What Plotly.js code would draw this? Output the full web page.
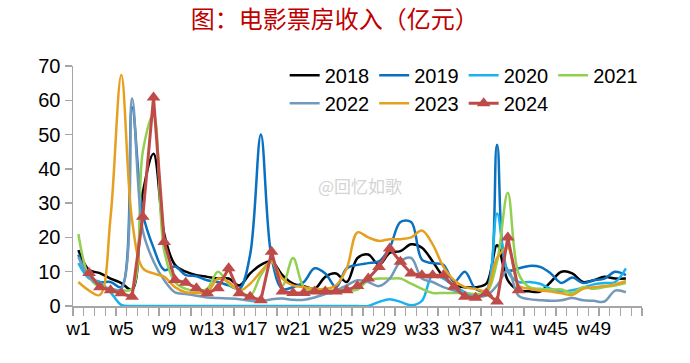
<!DOCTYPE html>
<html>
<head>
<meta charset="utf-8">
<script src="https://cdn.plot.ly/plotly-3.0.1.min.js"></script>
<style>
html,body{margin:0;padding:0;background:#fff;}
#chart{width:690px;height:363px;}
</style>
</head>
<body>
<div id="chart"></div>
<script>
// ---- data ----
const weeks = [];
for (let i = 1; i <= 53; i++) weeks.push('w' + i);
const xTickLabels = ['w1','w5','w9','w13','w17','w21','w25','w29','w33','w37','w41','w45','w49'];
const seriesNames = ['2018','2019','2020','2021','2022','2023','2024'];

const s2018 = [16.3,10.5,9.6,8,6.7,4.8,33,44.4,21,12,10,9,8.5,8,8,6,9.5,12,13,9,6.5,5.8,5,8.5,9.5,7,14,15,12,15.5,16,18,17,13,8.5,6,5.5,5.5,6.5,17.7,7.5,4.6,4.3,4.2,7,10,9.5,7,7.5,8.5,8,8];
const s2019 = [15,8.5,7,7,5.5,58,27,17,10.5,11.5,9,8.7,7.5,7,6,5,15,50,14,5,5.5,7,11,9.5,5.5,11,12,12.5,13,17,24.5,24.5,13.5,12.5,12,7,10,5,4.6,47,10.5,11,11.7,11.4,9.5,6.7,8.3,6.7,7.5,8,10,9];
const s2020 = [12.5,8,7,4,0.3,0,0,0,0,0,0,0,0,0,0,0,0,0,0,0,0,0,0,0,0,0,0,0,1.2,2,1.2,0.2,1.5,9,8,6,4,3,4,27,10,7,7,6.5,5,4.3,4.6,5.3,6.3,6.7,7,11];
const s2021 = [21,8.5,5.5,5,4.6,5,45,56,16,7,5,4.5,5,10,6.5,4.5,3,9,13,6,14,5.5,4.3,4.5,4.5,4.5,4.8,7.5,8,8,8,6.5,5,3.8,3.8,3.8,3.8,3.5,4,13,33,9.5,5.5,5,4.8,4.8,3.8,5.5,5,5.5,6,6.7];
const s2022 = [14.3,8.5,6,5,5,60.5,22,13,7.5,4,3.5,3,2.5,2.3,2.2,2,1.5,1.3,2,2.2,1.8,1.8,2.5,3.5,4.5,6,7.5,7,5.8,8,13,14,8,7,5.5,4.5,3.5,2.8,3,6,10.5,3,2,1.7,1.5,1.7,2.3,1.7,1.5,1.3,4.5,4];
const s2023 = [7,4.5,3.2,26,67.4,25,11,9.5,8.5,5.5,4,3.8,4,8,7,4.5,6.5,10,13,8,6,5.5,5,5,6,11,21.5,20,19,19.5,19.5,20,22,18,11.5,7.5,5.5,5,4.5,14,17,6,5,4.5,4.2,3.7,3.2,5,5.5,5.8,6.3,7.3];
const s2024 = [null,9.6,5.5,4.6,3.7,2.7,26,60.8,18.7,7.6,6.8,5.2,3.7,5.2,11,3.7,2.7,1.7,15.8,4.2,3.8,3.8,4.2,4.2,4.2,4.6,5.8,8,11.4,16.8,12.9,9.5,9,9,9,5.6,2.7,2.4,3.7,1.3,20,4.6];

const titleText = '图：电影票房收入（亿元）';
const watermark = '@回忆如歌';

// ---- styles ----
const colors = ['#000000','#0A70C0','#1AB3EE','#92D050','#7399BA','#E6A020','#BE4B48'];
const allSeries = [s2018,s2019,s2020,s2021,s2022,s2023,s2024];

const traces = allSeries.map((ys, i) => {
  const isLast = i === allSeries.length - 1;
  const t = {
    type: 'scatter',
    x: weeks.slice(0, ys.length),
    y: ys,
    name: seriesNames[i],
    legend: i < 4 ? 'legend' : 'legend2',
    mode: isLast ? 'lines+markers' : 'lines',
    line: {color: colors[i], width: isLast ? 3 : 2.5, shape: isLast ? 'linear' : 'spline', smoothing: 1},
    connectgaps: false,
    hoverinfo: 'skip'
  };
  if (isLast) t.marker = {symbol: 'triangle-up', size: 12, color: colors[i]};
  return t;
});
const ticktext = weeks.map(w => xTickLabels.includes(w) ? w : '');

const font = 'Liberation Sans, Arial, sans-serif';
const legendBase = {
  orientation: 'h', xanchor: 'left', yanchor: 'top',
  bgcolor: 'rgba(0,0,0,0)', borderwidth: 0,
  font: {family: font, size: 20, color: '#000'},
  traceorder: 'normal'
};
const layout = {
  width: 690, height: 363,
  margin: {l: 73, r: 48, t: 66, b: 57},
  paper_bgcolor: '#fff', plot_bgcolor: '#fff',
  font: {family: font, size: 19, color: '#000'},
  title: {
    text: titleText,
    font: {family: 'Noto Sans CJK SC, sans-serif', size: 24, color: '#C00000'},
    x: 0.485, xanchor: 'center', y: 0.945, yanchor: 'middle', xref: 'container', yref: 'container'
  },
  xaxis: {
    type: 'category',
    categoryorder: 'array', categoryarray: weeks,
    range: [-0.5, 52.5],
    tickmode: 'array', tickvals: weeks, ticktext: ticktext,
    tickson: 'boundaries', tickangle: 0, ticklabelstandoff: 5,
    ticks: 'outside', ticklen: 8, tickwidth: 1.3, tickcolor: '#A6A6A6',
    showline: true, linecolor: '#A6A6A6', linewidth: 1.5,
    showgrid: false, zeroline: false,
    tickfont: {family: font, size: 19, color: '#000'},
    fixedrange: true
  },
  yaxis: {
    range: [0, 70], dtick: 10, tick0: 0,
    ticks: 'outside', ticklen: 7, tickwidth: 1.3, tickcolor: '#A6A6A6',
    showline: true, linecolor: '#A6A6A6', linewidth: 1.5,
    showgrid: false, zeroline: false,
    tickfont: {family: font, size: 20, color: '#000'},
    fixedrange: true
  },
  showlegend: true,
  legend: Object.assign({}, legendBase, {x: 0.372, y: 1.043}),
  legend2: Object.assign({}, legendBase, {x: 0.372, y: 0.926}),
  annotations: [{
    text: watermark, xref: 'paper', yref: 'paper',
    x: (360 - 73) / 569, y: (306 - 185) / 240.5,
    showarrow: false, font: {family: 'Noto Sans CJK SC, sans-serif', size: 17, color: '#D4D4D4'}
  }]
};

Plotly.newPlot('chart', traces, layout, {staticPlot: true, displayModeBar: false});
</script>
</body>
</html>
